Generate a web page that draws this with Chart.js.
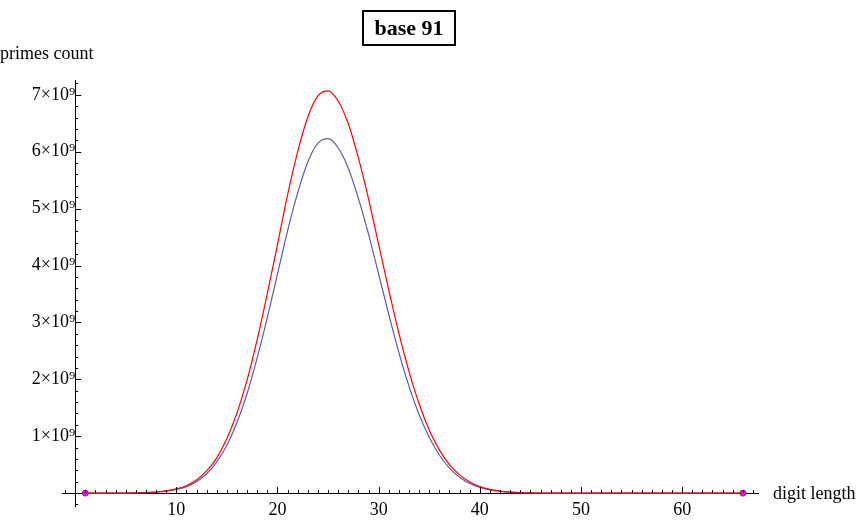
<!DOCTYPE html>
<html><head><meta charset="utf-8">
<script src="https://cdn.jsdelivr.net/npm/chart.js@4"></script>
<style>
body{margin:0;background:#fff;}
#wrap{position:relative;width:867px;height:521px;font-family:"Liberation Serif",serif;}
#title{position:absolute;left:362px;top:10px;width:90px;height:32px;border:2px solid #000;font-weight:bold;font-size:22px;text-align:center;line-height:32px;}
.lab{position:absolute;font-size:18px;}
</style></head><body>
<div id="wrap"><canvas id="c" width="867" height="521"></canvas>
<div id="title">base 91</div>
<div class="lab" style="left:0px;top:43px">primes count</div>
<div class="lab" style="left:773px;top:483px">digit length</div>
</div>
<script>
const digits = [];
for (let i = 1; i <= 66; i++) digits.push(i);
// values in units of 1e9, index = digit length 1..66
const redVals = [0,0,0,0,0.001,0.004,0.009,0.02,0.04,0.074,0.13,0.23,0.39,0.62,0.96,1.41,1.99,2.70,3.51,4.37,5.24,6.00,6.61,6.98,7.07,6.89,6.49,5.89,5.17,4.37,3.57,2.81,2.14,1.57,1.11,0.76,0.50,0.32,0.195,0.116,0.065,0.035,0.018,0.009,0.004,0.002,0.001,0,0,0,0,0,0,0,0,0,0,0,0,0,0,0,0,0,0,0];
const blueVals = [0,0,0,0,0.001,0.0035,0.008,0.018,0.035,0.065,0.115,0.20,0.34,0.55,0.84,1.24,1.75,2.38,3.09,3.85,4.61,5.28,5.82,6.15,6.23,6.07,5.71,5.18,4.55,3.85,3.14,2.47,1.88,1.38,0.98,0.67,0.44,0.28,0.17,0.10,0.057,0.031,0.016,0.008,0.0035,0.0018,0.0009,0,0,0,0,0,0,0,0,0,0,0,0,0,0,0,0,0,0,0];
const endPoints = [1, 66];
const xTicks = [10,20,30,40,50,60];
const yTicks = [1,2,3,4,5,6,7];
const sup = {'0':'⁰','1':'¹','2':'²','3':'³','4':'⁴','5':'⁵','6':'⁶','7':'⁷','8':'⁸','9':'⁹'};

const minorTicks = {
  id:'minor',
  afterDraw(ch){
    const c=ch.ctx, xs=ch.scales.x, ys=ch.scales.y;
    const x0=xs.getPixelForValue(0), y0=ys.getPixelForValue(0);
    c.save(); c.strokeStyle='#000'; c.lineWidth=1;
    for(let v=-1; v<=67; v++){ const p=Math.round(xs.getPixelForValue(v))+0.5; const major=v%10===0;
      c.beginPath(); c.moveTo(p,y0); c.lineTo(p,y0-(major?6:3)); c.stroke(); }
    for(let v=-0.2; v<=7.25; v+=0.2){ const p=Math.round(ys.getPixelForValue(v))+0.5; const major=Math.abs(v-Math.round(v))<0.01;
      c.beginPath(); c.moveTo(x0,p); c.lineTo(x0+(major?6:3),p); c.stroke(); }
    c.restore();
  }
};

new Chart(document.getElementById('c'),{
  type:'line',
  data:{datasets:[
    {data:digits.map((d,i)=>({x:d,y:redVals[i]})),borderColor:'#ff0000',borderWidth:1.2,pointRadius:0,tension:0.4,cubicInterpolationMode:'monotone'},
    {data:digits.map((d,i)=>({x:d,y:blueVals[i]})),borderColor:'#5a5aaa',borderWidth:1.2,pointRadius:0,tension:0.4,cubicInterpolationMode:'monotone'},
    {type:'scatter',data:endPoints.map(d=>({x:d,y:0})),backgroundColor:'#dd22dd',borderColor:'#aa00aa',pointRadius:3,showLine:false}
  ]},
  options:{
    responsive:false,animation:false,
    layout:{padding:{left:62,right:109,top:80,bottom:14}},
    plugins:{legend:{display:false},tooltip:{enabled:false}},
    scales:{
      x:{type:'linear',min:-1.3,max:67.5,position:{y:0},
        afterBuildTicks(s){s.ticks=xTicks.map(v=>({value:v}));},
        grid:{drawOnChartArea:false,drawTicks:false},border:{color:'#000'},
        ticks:{color:'#000',font:{family:'Liberation Serif',size:18},padding:6,maxRotation:0}},
      y:{type:'linear',min:-0.23,max:7.26,position:{x:0},
        afterBuildTicks(s){s.ticks=yTicks.map(v=>({value:v}));},
        grid:{drawOnChartArea:false,drawTicks:false},border:{color:'#000'},
        ticks:{color:'#000',font:{family:'Liberation Serif',size:18},padding:4,
          callback:v=>v+'×10'+sup['9']}}
    }
  },
  plugins:[minorTicks]
});
</script></body></html>
